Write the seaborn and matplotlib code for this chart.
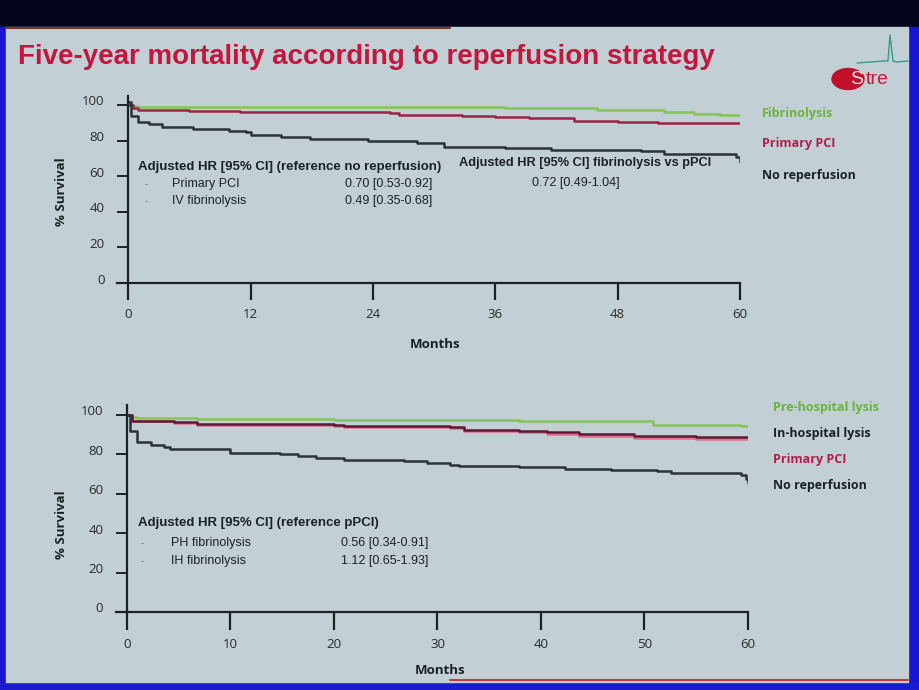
import numpy as np
import pandas as pd
import matplotlib
matplotlib.use("Agg")
import matplotlib.pyplot as plt
import matplotlib.transforms as mtrans
from matplotlib.patches import Rectangle, Ellipse
from matplotlib.lines import Line2D
import seaborn as sns

sns.set_theme(style="white")
plt.rcParams['font.family'] = ['Open Sans', 'DejaVu Sans']

# ---------------- data ----------------
title = "Five-year mortality according to reperfusion strategy"

# Top panel: months 0-60, ticks every 12
top_xticks = [0, 12, 24, 36, 48, 60]
top_fib_t = [0, 0.5, 1, 12, 24, 37, 46, 52.5, 55.5, 58, 60]
top_fib_s = [100, 99.3, 99.0, 98.8, 98.7, 98.1, 97.2, 96.2, 94.9, 94.5, 94.4]
top_pci_t = [0, 0.5, 1, 6, 11, 24, 25.7, 26.6, 32.7, 36, 39.3, 43.7, 48, 52, 60]
top_pci_s = [100, 98.0, 97.2, 96.8, 96.2, 96.2, 95.5, 94.4, 93.8, 93.2, 92.5, 91.2, 90.2, 89.9, 89.7]
top_nor_t = [0, 0.3, 1, 2, 3.3, 6.4, 9.9, 11.6, 12, 15, 17.8, 23.5, 28.3, 31, 37, 41.5, 50.3, 52.5, 58.6, 59.6, 60]
top_nor_s = [101.5, 94, 90.6, 89, 87.8, 86.3, 85.5, 85, 83, 82, 80.7, 79.9, 78.4, 76.5, 75.6, 74.7, 74.1, 72.4, 72.2, 70.5, 68]
top_labels = ["Fibrinolysis", "Primary PCI", "No reperfusion"]

# Bottom panel: months 0-60, ticks every 10
bot_xticks = [0, 10, 20, 30, 40, 50, 60]
bot_ph_t = [0, 0.5, 1, 6.8, 20, 37.9, 49.9, 50.8, 59.3, 60]
bot_ph_s = [100, 98.8, 98.6, 97.9, 97.4, 97.1, 96.7, 94.8, 94.5, 94.5]
bot_ih_t = [0, 0.5, 4.5, 6.8, 20, 21, 31.2, 32.6, 37.9, 40.6, 43.7, 49, 55, 60]
bot_ih_s = [100, 97.1, 96.2, 95.4, 94.8, 94.2, 93.6, 92.4, 91.9, 91.1, 90.2, 89.3, 88.8, 88.6]
bot_pci_t = [0, 0.5, 4.5, 6.8, 20, 21, 31.2, 32.6, 37.9, 40.6, 43.7, 49, 55, 60]
bot_pci_s = [100, 96.8, 95.9, 95.0, 94.4, 93.8, 93.2, 91.8, 91.2, 90.4, 89.4, 88.4, 87.8, 87.6]
bot_nor_t = [0, 0.3, 1, 2.3, 3.6, 4.2, 9.4, 10, 14.8, 16.5, 18.3, 21, 26.8, 29, 31.2, 32.1, 37.9, 42.3, 46.8, 51.2, 52.6, 59.3, 59.8, 60]
bot_nor_s = [100, 92, 86, 84.5, 83.5, 82.9, 82.6, 80.8, 80.2, 79, 78.2, 77.3, 76.8, 75.6, 74.7, 73.9, 73.4, 72.5, 72.2, 71.3, 70.4, 69.6, 67.5, 65.5]
bot_labels = ["Pre-hospital lysis", "In-hospital lysis", "Primary PCI", "No reperfusion"]

yticks = [0, 20, 40, 60, 80, 100]

top_hr_head1 = "Adjusted HR [95% CI] (reference no reperfusion)"
top_hr_head2 = "Adjusted HR [95% CI] fibrinolysis vs pPCI"
top_hr_rows = ["Primary PCI", "IV fibrinolysis"]
top_hr_vals = ["0.70 [0.53-0.92]", "0.49 [0.35-0.68]"]
top_hr_val2 = "0.72 [0.49-1.04]"
bot_hr_head = "Adjusted HR [95% CI] (reference pPCI)"
bot_hr_rows = ["PH fibrinolysis", "IH fibrinolysis"]
bot_hr_vals = ["0.56 [0.34-0.91]", "1.12 [0.65-1.93]"]

# ---------------- colours ----------------
C_GREEN = "#86c556"
C_GREEN_TXT = "#6cb43a"
C_PCI = "#9b2547"
C_PCI_TXT = "#b41c4c"
C_PINK = "#dc6f8f"
C_IH = "#5e1a32"
C_DARK = "#2a3338"
C_TXT = "#1b2226"
SLIDE = "#c2cfd4"

W, H = 920, 690
fig = plt.figure(figsize=(W / 100, H / 100), dpi=100, facecolor="#03061b")


def px(x, y):
    return x / W, 1 - y / H


# slide frame
fig.patches.append(Rectangle((0, 0), 1, 1, transform=fig.transFigure, color="#03061b", zorder=-10))
fig.patches.append(Rectangle((0, 0), 6 / W, 1 - 27 / H, transform=fig.transFigure, color="#1616d2", zorder=-9))
fig.patches.append(Rectangle((908 / W, 0), 12 / W, 1 - 27 / H, transform=fig.transFigure, color="#1616d2", zorder=-9))
fig.patches.append(Rectangle((0, 0), 1, 8 / H, transform=fig.transFigure, color="#1a1ad0", zorder=-9))
fig.patches.append(Rectangle(px(6, 682), 902 / W, 655 / H, transform=fig.transFigure, color=SLIDE, zorder=-8))
fig.lines.append(Line2D([6 / W, 450 / W], [1 - 28 / H] * 2, transform=fig.transFigure, color="#7a3a2a", lw=1.5, zorder=-7))
fig.lines.append(Line2D([450 / W, 908 / W], [1 - 680 / H] * 2, transform=fig.transFigure, color="#c23a4a", lw=1.5, zorder=-7))

# title
fig.text(*px(18, 57), title, color="#c4163c", fontsize=20, fontweight="bold",
         family=["Liberation Sans Narrow", "Liberation Sans"], va="center", ha="left")

# logo
fig.patches.append(Ellipse(px(848, 79), 32 / W, 21 / H, transform=fig.transFigure, color="#c0102a", zorder=2))
fig.text(*px(850, 80), "S", color="#f4e0e4", fontsize=14, va="center", ha="left",
         family=["Liberation Sans Narrow", "Liberation Sans"], zorder=4)
fig.text(*px(866, 80), "tre", color="#c41c34", fontsize=14, va="center", ha="left",
         family=["Liberation Sans Narrow", "Liberation Sans"], zorder=4)
ecg_x = [857, 884, 888, 890, 893, 897, 908]
ecg_y = [63, 61, 61, 35, 61, 62, 61]
fig.lines.append(Line2D([x / W for x in ecg_x], [1 - y / H for y in ecg_y], transform=fig.transFigure,
                        color="#3a9a8a", lw=1.0))


def make_df(groups):
    rows = []
    for name, t, s in groups:
        for a, b in zip(t, s):
            rows.append({"Months": a, "Survival": b, "group": name})
    return pd.DataFrame(rows)


def style_axes(ax, xticks, tick_len_x):
    ax.set_facecolor("none")
    ax.set_xlim(-1.1, 60)
    ax.set_ylim(0, 105)
    for sp in ["top", "right"]:
        ax.spines[sp].set_visible(False)
    ax.spines["left"].set_position(("data", 0))
    for sp in ["left", "bottom"]:
        ax.spines[sp].set_color(C_TXT)
        ax.spines[sp].set_linewidth(1.6)
    ax.set_xticks(xticks)
    ax.set_yticks(yticks)
    ax.tick_params(axis="x", direction="out", length=tick_len_x, width=1.6, color=C_TXT,
                   labelsize=9.5, labelcolor="#2a2a2a", pad=6, bottom=True)
    ax.tick_params(axis="y", direction="out", length=8, width=1.4, color=C_TXT,
                   labelsize=9.5, labelcolor="#2a2a2a", pad=9, left=True)
    off = mtrans.ScaledTranslation(0, 0.045, fig.dpi_scale_trans)
    for lab in ax.get_yticklabels():
        lab.set_transform(lab.get_transform() + off)
    ax.set_xlabel("")
    ax.set_ylabel("")
    ax.grid(False)


# ---------------- top panel ----------------
ax1 = fig.add_axes([117 / W, 1 - 283 / H, (740 - 117) / W, 187 / H])
df1 = make_df([("Fibrinolysis", top_fib_t, top_fib_s),
               ("Primary PCI", top_pci_t, top_pci_s),
               ("No reperfusion", top_nor_t, top_nor_s)])
sns.lineplot(data=df1, x="Months", y="Survival", hue="group", estimator=None,
             palette={"Fibrinolysis": C_GREEN, "Primary PCI": C_PCI, "No reperfusion": C_DARK},
             drawstyle="steps-post", linewidth=1.8, legend=False, ax=ax1)
style_axes(ax1, top_xticks, 12)

# ---------------- bottom panel ----------------
ax2 = fig.add_axes([115.6 / W, 1 - 612 / H, 632.4 / W, 207 / H])
df2 = make_df([("Pre-hospital lysis", bot_ph_t, bot_ph_s),
               ("Primary PCI", bot_pci_t, bot_pci_s),
               ("In-hospital lysis", bot_ih_t, bot_ih_s),
               ("No reperfusion", bot_nor_t, bot_nor_s)])
sns.lineplot(data=df2, x="Months", y="Survival", hue="group", estimator=None,
             palette={"Pre-hospital lysis": C_GREEN, "Primary PCI": C_PINK,
                      "In-hospital lysis": C_IH, "No reperfusion": C_DARK},
             drawstyle="steps-post", linewidth=1.8, legend=False, ax=ax2)
style_axes(ax2, bot_xticks, 13)

# axis titles
for (x, y) in [(435, 345), (440, 670)]:
    fig.text(*px(x, y), "Months", fontsize=9.5, fontweight="bold", color=C_TXT, ha="center", va="center")
for (x, y) in [(62, 192), (62, 525)]:
    fig.text(*px(x, y), "% Survival", fontsize=9.5, fontweight="bold", color=C_TXT,
             ha="center", va="center", rotation=90)

# legends as coloured text
for lab, col, y in zip(top_labels, [C_GREEN_TXT, C_PCI_TXT, C_TXT], [113, 144, 176]):
    fig.text(*px(762, y), lab, color=col, fontsize=9, fontweight="bold", ha="left", va="center")
for lab, col, y in zip(bot_labels, [C_GREEN_TXT, C_TXT, C_PCI_TXT, C_TXT], [408, 433, 459, 485]):
    fig.text(*px(773, y), lab, color=col, fontsize=9, fontweight="bold", ha="left", va="center")

# hazard-ratio annotations
narrow = ["Liberation Sans Narrow", "Liberation Sans"]
fig.text(*px(138, 167), top_hr_head1, fontsize=9.5, fontweight="bold", family=narrow, color=C_TXT, va="center")
fig.text(*px(459, 163), top_hr_head2, fontsize=9.2, fontweight="bold", family=narrow, color=C_TXT, va="center")
for lab, val, y in zip(top_hr_rows, top_hr_vals, [184, 201]):
    fig.text(*px(145, y), "-", fontsize=7, family=narrow, color="#777777", va="center")
    fig.text(*px(172, y), lab, fontsize=9, family=narrow, color=C_TXT, va="center")
    fig.text(*px(432, y), val, fontsize=9, family=narrow, color=C_TXT, va="center", ha="right")
fig.text(*px(576, 183), top_hr_val2, fontsize=9, family=narrow, color=C_TXT, va="center", ha="center")

fig.text(*px(138, 523), bot_hr_head, fontsize=9.5, fontweight="bold", family=narrow, color=C_TXT, va="center")
for lab, val, y in zip(bot_hr_rows, bot_hr_vals, [543, 561]):
    fig.text(*px(141, y), "-", fontsize=7, family=narrow, color="#777777", va="center")
    fig.text(*px(171, y), lab, fontsize=9, family=narrow, color=C_TXT, va="center")
    fig.text(*px(428, y), val, fontsize=9, family=narrow, color=C_TXT, va="center", ha="right")

fig.savefig("out.png", dpi=100, facecolor=fig.get_facecolor())
